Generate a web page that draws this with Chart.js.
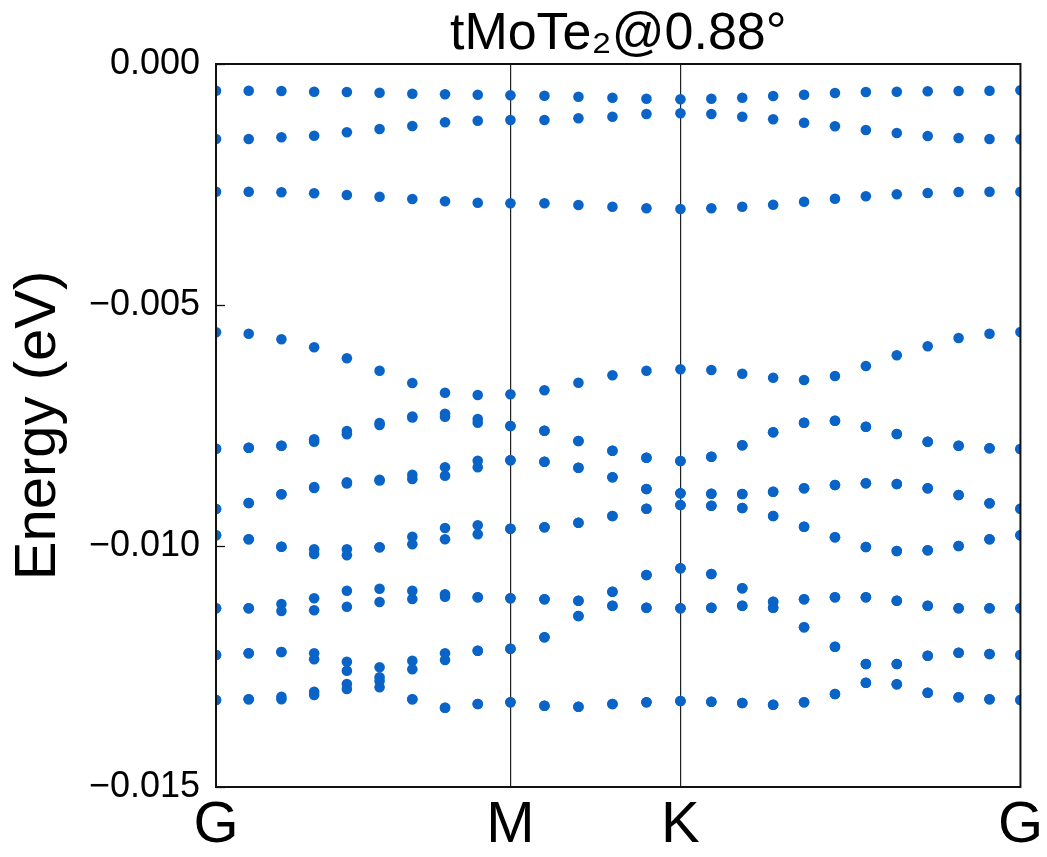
<!DOCTYPE html>
<html>
<head>
<meta charset="utf-8">
<script src="https://cdn.jsdelivr.net/npm/chart.js@4"></script>
<style>
  html, body { margin: 0; padding: 0; background: #fff; }
</style>
</head>
<body>
<canvas id="bands" width="1047" height="857"></canvas>
<script>
// k-path G -> M -> K -> G (segment lengths sqrt3/2 : 1/2 : 1)
const kLabels = ['G', 'M', 'K', 'G'];
const kNodes = [0, 0.866, 1.366, 2.366];
const kPath = [0, 0.0962, 0.1924, 0.2887, 0.3849, 0.4811, 0.5774, 0.6736, 0.7698, 0.8660,
  0.9660, 1.0660, 1.1660, 1.2660, 1.3660,
  1.4569, 1.5478, 1.6387, 1.7296, 1.8205, 1.9114, 2.0023, 2.0932, 2.1841, 2.2750, 2.3660];

const yTicks = [0, -0.005, -0.010, -0.015];

// band energies (eV), one value per k point
const band1 = [-0.000554, -0.000554, -0.000560, -0.000575, -0.000581, -0.000595, -0.000616, -0.000629, -0.000637, -0.000649,
  -0.000658, -0.000678, -0.000699, -0.000720, -0.000732,
  -0.000720, -0.000699, -0.000664, -0.000637, -0.000602, -0.000581, -0.000575, -0.000566, -0.000560, -0.000554, -0.000546];
const band2 = [-0.001556, -0.001556, -0.001521, -0.001488, -0.001417, -0.001349, -0.001286, -0.001210, -0.001176, -0.001162,
  -0.001162, -0.001127, -0.001093, -0.001037, -0.001023,
  -0.001037, -0.001093, -0.001147, -0.001218, -0.001293, -0.001369, -0.001432, -0.001494, -0.001535, -0.001556, -0.001562];
const band3 = [-0.002649, -0.002649, -0.002662, -0.002683, -0.002718, -0.002753, -0.002801, -0.002849, -0.002878, -0.002890,
  -0.002890, -0.002925, -0.002961, -0.002994, -0.003008,
  -0.002994, -0.002961, -0.002919, -0.002857, -0.002795, -0.002745, -0.002703, -0.002676, -0.002656, -0.002649, -0.002649];
const band4 = [-0.005566, -0.005595, -0.005712, -0.005878, -0.006106, -0.006363, -0.006618, -0.006819, -0.006867, -0.006853,
  -0.006770, -0.006612, -0.006459, -0.006363, -0.006334,
  -0.006349, -0.006425, -0.006508, -0.006556, -0.006473, -0.006266, -0.006044, -0.005857, -0.005685, -0.005595, -0.005560];
const band5 = [-0.007981, -0.007961, -0.007919, -0.007786, -0.007614, -0.007448, -0.007313, -0.007255, -0.007365, -0.007510,
  -0.007608, -0.007822, -0.008023, -0.008168, -0.008237,
  -0.008147, -0.007911, -0.007641, -0.007442, -0.007400, -0.007525, -0.007676, -0.007836, -0.007919, -0.007973, -0.007988];
const band6 = [-0.007981, -0.007961, -0.007919, -0.007836, -0.007683, -0.007490, -0.007334, -0.007317, -0.007442, -0.007510,
  -0.007608, -0.007822, -0.008023, -0.008168, -0.008237,
  -0.008147, -0.007911, -0.007641, -0.007442, -0.007400, -0.007525, -0.007676, -0.007836, -0.007919, -0.007973, -0.007988];
const band7 = [-0.009232, -0.009108, -0.008927, -0.008776, -0.008678, -0.008624, -0.008521, -0.008367, -0.008230, -0.008222,
  -0.008251, -0.008376, -0.008575, -0.008817, -0.008907,
  -0.008915, -0.008921, -0.008873, -0.008803, -0.008734, -0.008699, -0.008714, -0.008803, -0.008942, -0.009114, -0.009226];
const band8 = [-0.009232, -0.009108, -0.008927, -0.008797, -0.008703, -0.008641, -0.008610, -0.008542, -0.008367, -0.008222,
  -0.008251, -0.008376, -0.008575, -0.008817, -0.008907,
  -0.008915, -0.008921, -0.008873, -0.008803, -0.008734, -0.008699, -0.008714, -0.008803, -0.008942, -0.009114, -0.009226];
const band9 = [-0.009778, -0.009861, -0.010015, -0.010069, -0.010069, -0.010027, -0.009807, -0.009627, -0.009571, -0.009641,
  -0.009612, -0.009517, -0.009378, -0.009226, -0.009149,
  -0.009164, -0.009212, -0.009378, -0.009600, -0.009819, -0.010021, -0.010104, -0.010089, -0.010000, -0.009861, -0.009778];
const band10 = [-0.009778, -0.009861, -0.010015, -0.010166, -0.010193, -0.010027, -0.009965, -0.009861, -0.009757, -0.009641,
  -0.009612, -0.009517, -0.009378, -0.009226, -0.009149,
  -0.009164, -0.009212, -0.009378, -0.009600, -0.009819, -0.010021, -0.010104, -0.010089, -0.010000, -0.009861, -0.009778];
const band11 = [-0.011293, -0.011293, -0.011203, -0.011085, -0.010927, -0.010886, -0.010927, -0.011002, -0.011064, -0.011085,
  -0.011106, -0.011135, -0.010948, -0.010602, -0.010463,
  -0.010581, -0.010878, -0.011156, -0.011106, -0.011064, -0.011064, -0.011135, -0.011239, -0.011293, -0.011293, -0.011293];
const band12 = [-0.011293, -0.011293, -0.011349, -0.011334, -0.011259, -0.011162, -0.011100, -0.011052, -0.011064, -0.011085,
  -0.011106, -0.011135, -0.010948, -0.010602, -0.010463,
  -0.010581, -0.010878, -0.011156, -0.011106, -0.011064, -0.011064, -0.011135, -0.011239, -0.011293, -0.011293, -0.011293];
const band13 = [-0.012261, -0.012226, -0.012199, -0.012226, -0.012400, -0.012517, -0.012380, -0.012226, -0.012172, -0.012131,
  -0.011894, -0.011452, -0.011239, -0.011280, -0.011293,
  -0.011280, -0.011239, -0.011280, -0.011687, -0.012089, -0.012448, -0.012448, -0.012276, -0.012214, -0.012241, -0.012261];
const band14 = [-0.012261, -0.012226, -0.012199, -0.012351, -0.012587, -0.012724, -0.012558, -0.012365, -0.012172, -0.012131,
  -0.011894, -0.011452, -0.011239, -0.011280, -0.011293,
  -0.011280, -0.011239, -0.011280, -0.011687, -0.012089, -0.012448, -0.012448, -0.012276, -0.012214, -0.012241, -0.012261];
const band15 = [-0.013195, -0.013181, -0.013181, -0.013091, -0.012967, -0.012931, -0.013181, -0.013355, -0.013278, -0.013243,
  -0.013313, -0.013334, -0.013278, -0.013243, -0.013216,
  -0.013230, -0.013257, -0.013293, -0.013243, -0.013071, -0.012836, -0.012869, -0.013044, -0.013139, -0.013181, -0.013195];
const band16 = [-0.013195, -0.013181, -0.013127, -0.013023, -0.012863, -0.012801, -0.013181, -0.013355, -0.013278, -0.013243,
  -0.013313, -0.013334, -0.013278, -0.013243, -0.013216,
  -0.013230, -0.013257, -0.013293, -0.013243, -0.013071, -0.012836, -0.012869, -0.013044, -0.013139, -0.013181, -0.013195];

const bands = [band1, band2, band3, band4, band5, band6, band7, band8,
  band9, band10, band11, band12, band13, band14, band15, band16];

const FONT = "'Liberation Sans', Arial, sans-serif";
const DOT = '#0a64c8';

// box around the plot + short inward y ticks
const frame = {
  id: 'frame',
  afterDraw(chart) {
    const { ctx, chartArea: a, scales } = chart;
    ctx.save();
    ctx.strokeStyle = '#111';
    ctx.lineWidth = 1.3;
    yTicks.forEach(v => {
      const py = Math.round(scales.y.getPixelForValue(v)) + 0.5;
      ctx.beginPath();
      ctx.moveTo(a.left, py);
      ctx.lineTo(a.left + 9, py);
      ctx.stroke();
    });
    ctx.lineWidth = 2;
    ctx.strokeRect(a.left, a.top, a.right - a.left, a.bottom - a.top);
    ctx.restore();
  }
};

new Chart(document.getElementById('bands').getContext('2d'), {
  type: 'scatter',
  data: {
    datasets: bands.map((b, i) => ({
      label: 'band ' + (i + 1),
      data: b.map((e, j) => ({ x: kPath[j], y: e })),
      backgroundColor: DOT,
      borderWidth: 0,
      pointRadius: 5.3
    }))
  },
  options: {
    responsive: false,
    animation: false,
    devicePixelRatio: 1,
    events: [],
    layout: { padding: { left: 0, right: 21, top: 0, bottom: 0 } },
    plugins: {
      legend: { display: false },
      tooltip: { enabled: false },
      title: {
        display: true,
        fullSize: false,
        text: 'tMoTe\u2082@0.88\u00b0',
        color: '#000',
        font: { family: FONT, size: 52, weight: 'normal', lineHeight: 1 },
        padding: { top: 9, bottom: 3 }
      }
    },
    scales: {
      x: {
        type: 'linear',
        min: 0,
        max: 2.366,
        z: 1,
        afterBuildTicks: s => { s.ticks = kNodes.map(v => ({ value: v })); },
        afterFit: s => { s.height = 70; },
        ticks: {
          autoSkip: false,
          maxRotation: 0,
          padding: 4,
          color: '#000',
          font: { family: FONT, size: 58 },
          callback: (v, i) => kLabels[i]
        },
        grid: {
          drawTicks: false,
          lineWidth: 1.2,
          color: c => (c.index === 1 || c.index === 2) ? '#222' : 'rgba(0,0,0,0)'
        },
        border: { display: false }
      },
      y: {
        min: -0.015,
        max: 0,
        afterBuildTicks: s => { s.ticks = yTicks.map(v => ({ value: v })); },
        afterFit: s => { s.width = 216; },
        ticks: {
          padding: 16,
          color: '#000',
          font: { family: FONT, size: 36 },
          callback: v => (v < 0 ? '\u2212' : '') + Math.abs(v).toFixed(3)
        },
        grid: { display: false, drawTicks: false },
        border: { display: false },
        title: {
          display: true,
          text: 'Energy (eV)',
          color: '#000',
          font: { family: FONT, size: 58 },
          padding: { top: 4, bottom: 0 }
        }
      }
    }
  },
  plugins: [frame]
});
</script>
</body>
</html>
